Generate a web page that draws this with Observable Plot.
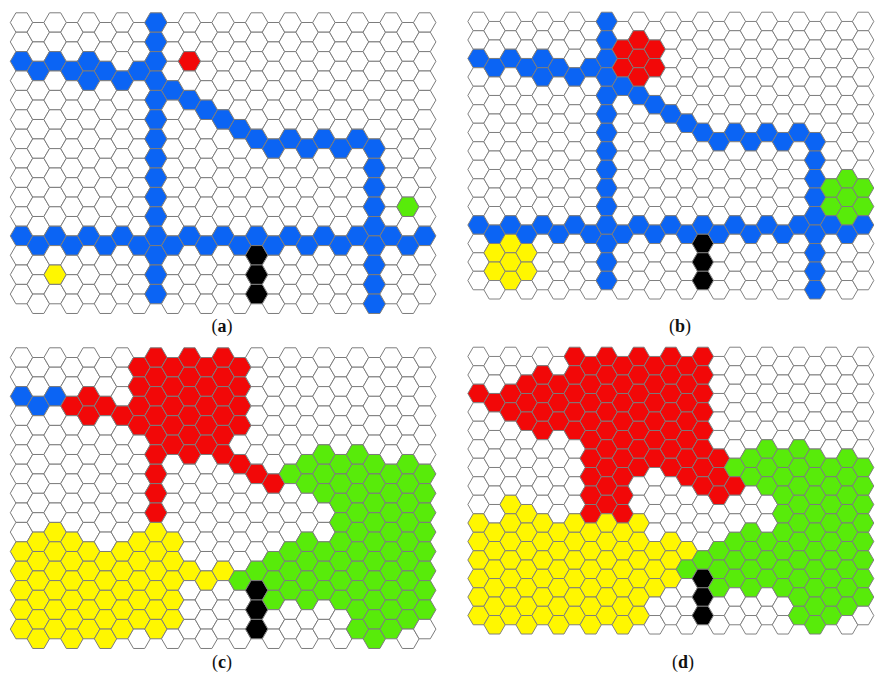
<!DOCTYPE html>
<html>
<head>
<meta charset="utf-8">
<script src="https://cdn.jsdelivr.net/npm/d3@7"></script>
<script src="https://cdn.jsdelivr.net/npm/@observablehq/plot@0.6"></script>
<style>
  html, body { margin: 0; padding: 0; background: #fff; overflow: hidden; }
  #fig { position: relative; width: 882px; height: 678px; overflow: hidden; background: #fff; }
  .panel { position: absolute; }
  .cap {
    position: absolute; width: 80px; text-align: center;
    font-family: "Liberation Serif", "DejaVu Serif", serif;
    font-size: 18px; line-height: 20px; color: #111;
  }
</style>
</head>
<body>
<div id="fig"></div>
<script>
// Hexagonal cell grid: 25 columns x 15 rows, flat-top cells, odd columns shifted half a row down.
const COLS = 25, ROWS = 15;

// Cell states and their fill colours
const states = ["empty", "blue", "red", "green", "yellow", "black"];
const stateColors = ["#ffffff", "#0b64f4", "#f20808", "#58eb0a", "#fff700", "#000000"];

// Panel captions
const panelLabels = ["a", "b", "c", "d"];

// Runs of coloured cells: [state, column, first row, last row]
const bluePath = [
  ["blue", 0, 2, 2], ["blue", 1, 2, 2], ["blue", 2, 2, 2], ["blue", 3, 2, 2], ["blue", 4, 2, 3],
  ["blue", 5, 2, 2], ["blue", 6, 3, 3], ["blue", 7, 2, 2],
  ["blue", 8, 0, 14],
  ["blue", 9, 3, 3], ["blue", 10, 4, 4], ["blue", 11, 4, 4], ["blue", 12, 5, 5], ["blue", 13, 5, 5],
  ["blue", 14, 6, 6], ["blue", 15, 6, 6], ["blue", 16, 6, 6], ["blue", 17, 6, 6], ["blue", 18, 6, 6],
  ["blue", 19, 6, 6], ["blue", 20, 6, 6], ["blue", 21, 6, 14],
  ["blue", 0, 11, 11], ["blue", 1, 11, 11], ["blue", 2, 11, 11], ["blue", 3, 11, 11], ["blue", 4, 11, 11],
  ["blue", 5, 11, 11], ["blue", 6, 11, 11], ["blue", 7, 11, 11], ["blue", 9, 11, 11], ["blue", 10, 11, 11],
  ["blue", 11, 11, 11], ["blue", 12, 11, 11], ["blue", 13, 11, 11], ["blue", 14, 11, 11], ["blue", 15, 11, 11],
  ["blue", 16, 11, 11], ["blue", 17, 11, 11], ["blue", 18, 11, 11], ["blue", 19, 11, 11], ["blue", 20, 11, 11],
  ["blue", 22, 11, 11], ["blue", 23, 11, 11], ["blue", 24, 11, 11]
];
const obstacle = [["black", 14, 12, 14]];

const seedsA = [["red", 10, 2, 2], ["green", 23, 9, 9], ["yellow", 2, 13, 13]];

const seedsB = [
  ["red", 9, 1, 2], ["red", 10, 1, 3], ["red", 11, 1, 2],
  ["green", 22, 9, 10], ["green", 23, 8, 10], ["green", 24, 9, 10],
  ["yellow", 1, 12, 13], ["yellow", 2, 12, 14], ["yellow", 3, 12, 13]
];

const regionsC = [
  ["blue", 0, 2, 2], ["blue", 1, 2, 2], ["blue", 2, 2, 2],
  ["red", 3, 2, 2], ["red", 4, 2, 3], ["red", 5, 2, 2], ["red", 6, 3, 3], ["red", 7, 0, 3],
  ["red", 8, 0, 8], ["red", 9, 0, 4], ["red", 10, 0, 5], ["red", 11, 0, 4], ["red", 12, 0, 5],
  ["red", 13, 0, 3], ["red", 13, 5, 5], ["red", 14, 6, 6], ["red", 15, 6, 6],
  ["yellow", 0, 10, 14], ["yellow", 1, 9, 14], ["yellow", 2, 9, 14], ["yellow", 3, 9, 14],
  ["yellow", 4, 10, 14], ["yellow", 5, 10, 14], ["yellow", 6, 10, 14], ["yellow", 7, 9, 13],
  ["yellow", 8, 9, 14], ["yellow", 9, 9, 13], ["yellow", 10, 11, 11], ["yellow", 11, 11, 11],
  ["yellow", 12, 11, 11],
  ["green", 13, 11, 11], ["green", 14, 11, 11], ["green", 15, 10, 12], ["green", 16, 6, 6],
  ["green", 16, 10, 12], ["green", 17, 5, 6], ["green", 17, 9, 12], ["green", 18, 5, 7],
  ["green", 18, 10, 12], ["green", 19, 5, 12], ["green", 20, 5, 14], ["green", 21, 5, 14],
  ["green", 22, 6, 14], ["green", 23, 5, 13], ["green", 24, 6, 13]
];

const regionsD = [
  ["red", 0, 2, 2], ["red", 1, 2, 2], ["red", 2, 2, 3], ["red", 3, 1, 3], ["red", 4, 1, 4],
  ["red", 5, 1, 3], ["red", 6, 0, 4], ["red", 7, 0, 8], ["red", 8, 0, 8], ["red", 9, 0, 8],
  ["red", 10, 0, 6], ["red", 11, 0, 5], ["red", 12, 0, 6], ["red", 13, 0, 6], ["red", 14, 0, 7],
  ["red", 15, 5, 7], ["red", 16, 7, 7],
  ["yellow", 0, 9, 14], ["yellow", 1, 9, 14], ["yellow", 2, 8, 14], ["yellow", 3, 8, 14],
  ["yellow", 4, 9, 14], ["yellow", 5, 9, 14], ["yellow", 6, 9, 14], ["yellow", 7, 9, 14],
  ["yellow", 8, 9, 14], ["yellow", 9, 9, 14], ["yellow", 10, 9, 14], ["yellow", 11, 10, 12],
  ["yellow", 12, 10, 12], ["yellow", 13, 10, 10],
  ["green", 13, 11, 11], ["green", 14, 11, 11], ["green", 15, 10, 12], ["green", 16, 6, 6],
  ["green", 16, 10, 12], ["green", 17, 5, 6], ["green", 17, 9, 12], ["green", 18, 5, 7],
  ["green", 18, 10, 12], ["green", 19, 5, 12], ["green", 20, 5, 14], ["green", 21, 5, 14],
  ["green", 22, 6, 14], ["green", 23, 5, 13], ["green", 24, 6, 13]
];

const panelRuns = [
  [...bluePath, ...seedsA, ...obstacle],
  [...bluePath, ...seedsB, ...obstacle],
  [...regionsC, ...obstacle],
  [...regionsD, ...obstacle]
];

// Expand the runs into one record per grid cell
function buildCells(runs) {
  const grid = new Map();
  for (let c = 0; c < COLS; c++)
    for (let r = 0; r < ROWS; r++)
      grid.set(c + "," + r, {col: c, row: r, state: "empty"});
  for (const [state, c, r0, r1] of runs)
    for (let r = r0; r <= r1; r++) grid.get(c + "," + r).state = state;
  return Array.from(grid.values());
}

// Flat-top hexagon symbol; size is the area Plot passes (π r²)
const flatHex = {
  draw(context, size) {
    const R = Math.sqrt(size / Math.PI);
    const h = R * Math.sqrt(3) / 2;
    context.moveTo(R, 0);
    context.lineTo(R / 2, h);
    context.lineTo(-R / 2, h);
    context.lineTo(-R, 0);
    context.lineTo(-R / 2, -h);
    context.lineTo(R / 2, -h);
    context.closePath();
  }
};

const colStep = 16.8;
const rowStep = colStep * 2 / Math.sqrt(3);
const x0 = 21, y0 = 22;

function hexPanel(cells) {
  return Plot.plot({
    width: 445,
    height: 325,
    margin: 0,
    x: {domain: [0, COLS - 1], range: [x0, x0 + (COLS - 1) * colStep], axis: null},
    y: {domain: [0, ROWS - 0.5], range: [y0, y0 + (ROWS - 0.5) * rowStep], axis: null},
    color: {domain: states, range: stateColors},
    style: {background: "transparent", overflow: "visible"},
    marks: [
      Plot.dot(cells, {
        x: "col",
        y: d => d.row + (d.col % 2 ? 0.5 : 0),
        fill: "state",
        r: colStep / 1.5,
        symbol: flatHex,
        stroke: "#7c7c7c",
        strokeWidth: 1
      })
    ]
  });
}

const fig = document.getElementById("fig");
const panelPos = [[0, 0], [457.5, 0], [0, 335], [457.5, 335]];
const capPos = [[222, 316], [680, 316], [222, 652], [683, 652]];

panelRuns.forEach((runs, i) => {
  const wrap = document.createElement("div");
  wrap.className = "panel";
  wrap.style.left = panelPos[i][0] + "px";
  wrap.style.top = panelPos[i][1] + "px";
  wrap.appendChild(hexPanel(buildCells(runs)));
  fig.appendChild(wrap);

  const cap = document.createElement("div");
  cap.className = "cap";
  cap.style.left = (capPos[i][0] - 40) + "px";
  cap.style.top = capPos[i][1] + "px";
  cap.innerHTML = "(<b>" + panelLabels[i] + "</b>)";
  fig.appendChild(cap);
});
</script>
</body>
</html>
